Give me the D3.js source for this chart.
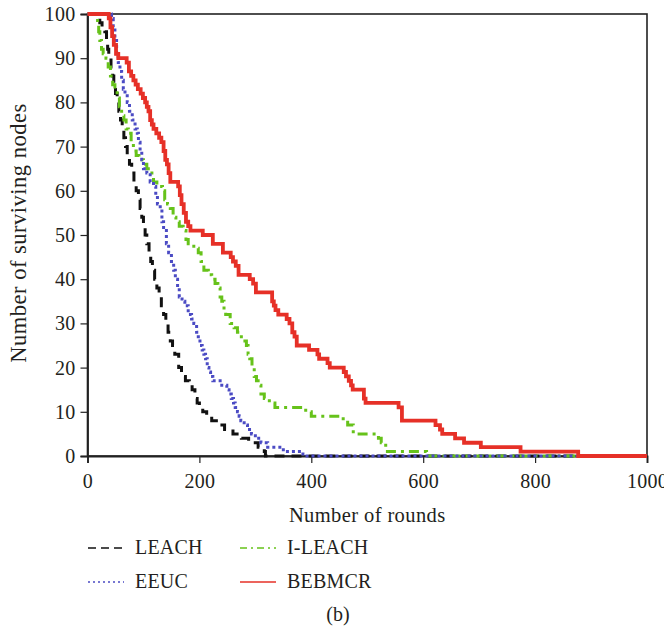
<!DOCTYPE html>
<html>
<head>
<meta charset="utf-8">
<script src="https://cdn.jsdelivr.net/npm/d3@7"></script>
<style>
  html, body { margin: 0; padding: 0; background: #fff; }
  svg text { font-family: "Liberation Serif", "Times New Roman", serif; fill: #231f20; }
</style>
</head>
<body>
<svg id="chart" width="664" height="633"></svg>
<script>
// Surviving nodes per round (step series: value holds from the given round on)
const leachRounds = [0,17,22,26,31,34,36,38,42,45,47,50,53,56,59,62,65,68,71,75,79,83,87,91,94,97,100,103,106,110,113,116,120,124,128,132,136,140,144,148,152,156,163,168,175,182,187,192,196,200,206,213,222,233,245,260,275,288,305,316,318,1000];
const leachNodes  = [100,99,98,97,96,94,92,90,88,86,84,82,80,78,76,74,72,70,68,66,64,62,60,58,56,54,52,50,48,46,44,42,40,38,36,34,32,30,28,26,25,23,20,18,17,16,15,13,12,11,10,9,8,7,6,5,4,3,2,1,0,0];

const eeucRounds = [0,43,46,49,52,55,58,61,64,67,71,75,80,85,89,91,94,97,100,106,112,118,122,125,130,133,136,141,145,150,154,157,161,164,169,174,180,186,190,195,198,201,205,208,211,214,217,220,224,240,249,253,257,261,264,268,271,274,280,286,293,300,310,322,350,385,1000];
const eeucNodes  = [100,99,97,94,91,89,87,85,83,82,80,78,76,74,73,71,69,67,65,64,62,61,59,57,56,53,51,48,46,44,42,40,38,36,35,34,32,31,30,28,27,25,24,23,22,20,19,18,17,16,15,14,13,12,11,10,9,8,7,6,5,4,3,2,1,0,0];

const ileachRounds = [0,18,20,22,25,28,33,37,41,45,49,53,57,61,65,69,73,78,82,87,92,100,106,112,118,124,134,138,143,148,153,158,164,171,176,180,190,198,203,208,216,222,228,233,237,240,244,247,255,262,268,272,278,284,287,290,294,298,302,305,310,316,325,335,390,400,457,465,475,520,525,533,606,1000];
const ileachNodes  = [100,98,96,94,92,91,90,88,86,84,83,81,79,77,76,74,73,71,69,68,67,66,65,64,62,61,60,58,57,56,54,53,52,51,49,48,47,46,44,42,41,40,39,38,36,35,33,32,30,29,28,27,26,25,23,22,20,18,17,16,14,13,12,11,10,9,8,7,5,4,3,1,0,0];

const bebmcrRounds = [0,38,41,44,47,51,55,70,74,78,82,86,90,95,99,103,106,109,112,115,118,123,128,132,136,139,142,145,148,162,165,168,172,176,180,184,206,224,242,256,260,265,270,290,296,301,330,333,336,341,356,361,366,370,374,396,411,414,429,433,458,462,467,471,474,494,497,556,562,622,630,634,657,673,703,774,877,1000];
const bebmcrNodes  = [100,99,97,95,93,91,90,89,87,86,85,84,83,82,81,80,79,78,76,75,74,73,72,71,69,67,66,64,62,61,59,57,55,53,52,51,50,48,46,45,44,43,41,40,39,37,35,34,33,32,31,30,28,27,25,24,23,22,21,20,19,18,17,16,15,13,12,11,8,7,6,5,4,3,2,1,0,0];

const xTicks = [0, 200, 400, 600, 800, 1000];
const yTicks = [0, 10, 20, 30, 40, 50, 60, 70, 80, 90, 100];

const seriesNames = ["LEACH", "EEUC", "I-LEACH", "BEBMCR"];

const series = [
  { name: "LEACH",   rounds: leachRounds,  nodes: leachNodes,  color: "#111111", width: 3,   dash: "10,7",      legendDash: "8,5" },
  { name: "I-LEACH", rounds: ileachRounds, nodes: ileachNodes, color: "#66c21a", width: 3,   dash: "10,5,3,5",  legendDash: "7,4,2,4" },
  { name: "EEUC",    rounds: eeucRounds,   nodes: eeucNodes,   color: "#4b4bc4", width: 3,   dash: "3,3",       legendDash: "2,3" },
  { name: "BEBMCR",  rounds: bebmcrRounds, nodes: bebmcrNodes, color: "#e63027", width: 3.8, dash: null,        legendDash: null }
];

const svg = d3.select("#chart");
const plotLeft = 87.5, plotRight = 647, plotTop = 14, plotBottom = 456;

const x = d3.scaleLinear().domain([0, 1000]).range([plotLeft, plotRight]);
const y = d3.scaleLinear().domain([0, 100]).range([plotBottom, plotTop]);

// Frame around the plot area
svg.append("rect")
  .attr("x", plotLeft).attr("y", plotTop)
  .attr("width", plotRight - plotLeft).attr("height", plotBottom - plotTop)
  .attr("fill", "none").attr("stroke", "#222").attr("stroke-width", 1.6);

// Axes
const xAxis = svg.append("g")
  .attr("transform", `translate(0,${plotBottom})`)
  .call(d3.axisBottom(x).tickValues(xTicks).tickFormat(d3.format("d")).tickSize(7).tickPadding(11));
const yAxis = svg.append("g")
  .attr("transform", `translate(${plotLeft},0)`)
  .call(d3.axisLeft(y).tickValues(yTicks).tickSize(7).tickPadding(5));

[xAxis, yAxis].forEach(g => {
  g.select(".domain").attr("stroke", "#222").attr("stroke-width", 1.8);
  g.selectAll(".tick line").attr("stroke", "#222").attr("stroke-width", 1.2);
  g.selectAll(".tick text")
    .attr("font-size", 20)
    .attr("letter-spacing", 0.3)
    .attr("font-family", "Liberation Serif, serif")
    .attr("fill", "#231f20");
});

// Axis titles
svg.append("text")
  .attr("x", (plotLeft + plotRight) / 2).attr("y", 522)
  .attr("text-anchor", "middle").attr("font-size", 20.5)
  .attr("letter-spacing", 0.4)
  .text("Number of rounds");
svg.append("text")
  .attr("transform", `translate(26,${(plotTop + plotBottom) / 2 - 2}) rotate(-90)`)
  .attr("text-anchor", "middle").attr("font-size", 22.5)
  .attr("letter-spacing", 0.5)
  .text("Number of surviving nodes");

// Series lines
const line = d3.line()
  .x(d => x(d[0]))
  .y(d => y(d[1]))
  .curve(d3.curveStepAfter);

series.forEach(s => {
  const pts = s.rounds.map((r, i) => [r, s.nodes[i]]);
  svg.append("path")
    .datum(pts)
    .attr("d", line)
    .attr("fill", "none")
    .attr("stroke", s.color)
    .attr("stroke-width", s.width)
    .attr("stroke-dasharray", s.dash)
    .attr("stroke-linejoin", "miter");
});

// Legend in two columns
const legendPos = {
  "LEACH":   { lx: 88,  ty: 554 },
  "EEUC":    { lx: 88,  ty: 588 },
  "I-LEACH": { lx: 240, ty: 554 },
  "BEBMCR":  { lx: 240, ty: 588 }
};
seriesNames.forEach(name => {
  const s = series.find(d => d.name === name);
  const p = legendPos[name];
  svg.append("line")
    .attr("x1", p.lx).attr("x2", p.lx + 36)
    .attr("y1", p.ty - 6).attr("y2", p.ty - 6)
    .attr("stroke", s.color).attr("stroke-width", 1.6)
    .attr("stroke-dasharray", s.legendDash);
  svg.append("text")
    .attr("x", p.lx + 47).attr("y", p.ty)
    .attr("font-size", 20)
    .attr("letter-spacing", 0.2)
    .text(name);
});

// Panel label
svg.append("text")
  .attr("x", 338).attr("y", 621)
  .attr("text-anchor", "middle").attr("font-size", 20)
  .text("(b)");
</script>
</body>
</html>
